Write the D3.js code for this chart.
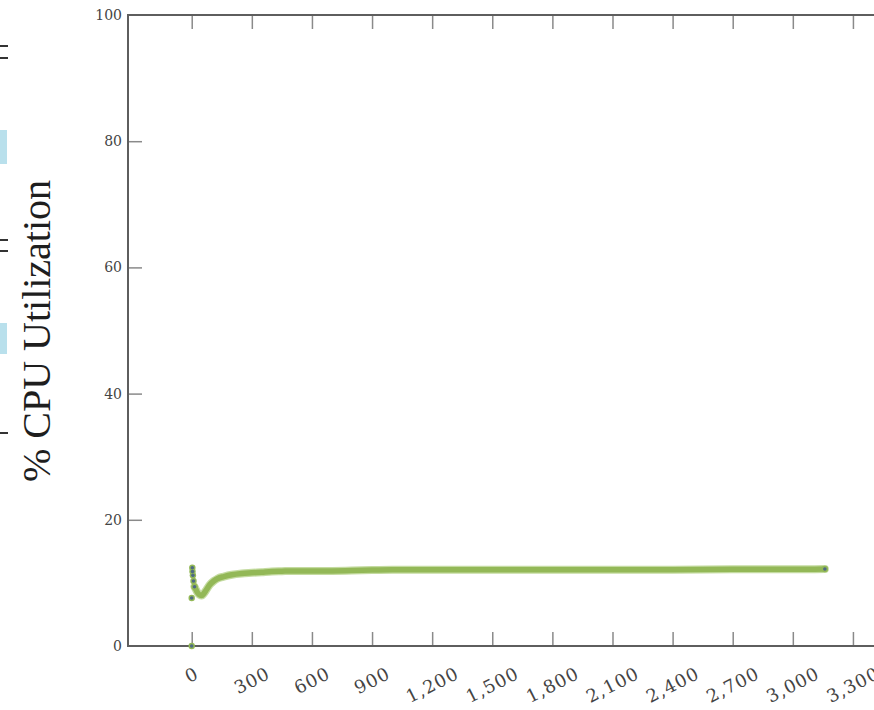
<!DOCTYPE html>
<html>
<head>
<meta charset="utf-8">
<script src="https://cdn.jsdelivr.net/npm/d3@7"></script>
<style>
  html, body { margin: 0; padding: 0; background: #fff; }
  svg { display: block; }
</style>
</head>
<body>
<svg id="chart" width="874" height="710"></svg>
<script>
// Elapsed time (s) and CPU utilisation (%) — start-up samples
const startTimes = [0, 0, 3, 4, 6, 9, 14];
const startCpu   = [0, 7.6, 12.4, 11.8, 11.2, 10.3, 9.4];

// Elapsed time (s) and CPU utilisation (%) — steady run
const runTimes = [14, 20, 30, 40, 50, 60, 75, 90, 110, 130, 160, 200, 250, 300, 350, 400, 450, 500, 600, 700, 800, 900, 1000, 1200, 1500, 1800, 2100, 2400, 2700, 3000, 3160];
const runCpu   = [9.4, 9.0, 8.4, 8.1, 8.0, 8.3, 9.0, 9.7, 10.3, 10.7, 11.0, 11.3, 11.5, 11.6, 11.7, 11.8, 11.85, 11.9, 11.9, 11.9, 11.95, 12.05, 12.1, 12.1, 12.1, 12.1, 12.1, 12.1, 12.15, 12.15, 12.2];

// Axis ticks
const xTicks = [0, 300, 600, 900, 1200, 1500, 1800, 2100, 2400, 2700, 3000, 3300];
const yTicks = [0, 20, 40, 60, 80, 100];
const xDomain = [-318, 3490];
const yDomain = [0, 100];

(function draw() {
const svg = d3.select("#chart");
const plotLeft = 128, plotRight = 891, plotTop = 15, plotBottom = 646;

const x = d3.scaleLinear().domain(xDomain).range([plotLeft, plotRight]);
const y = d3.scaleLinear().domain(yDomain).range([plotBottom, plotTop]);

const frameColor = "#5e5e5e";
const tickColor = "#8a8a8a";
const labelColor = "#444";
const lineColor = "#93b857";
const dotColor = "#4e6a84";

// Edge of the neighbouring panel (dark rules and shaded cells)
const edgeRules = [46, 58, 240, 251, 433];
const edgeCells = [[130, 164], [323, 354]];
svg.selectAll("rect.edgecell").data(edgeCells).enter().append("rect")
  .attr("class", "edgecell")
  .attr("x", 0).attr("width", 7)
  .attr("y", d => d[0]).attr("height", d => d[1] - d[0])
  .attr("fill", "#b9e0ec");
svg.selectAll("line.edgerule").data(edgeRules).enter().append("line")
  .attr("class", "edgerule")
  .attr("x1", 0).attr("x2", 8)
  .attr("y1", d => d).attr("y2", d => d)
  .attr("stroke", "#333").attr("stroke-width", 2);

// Axes: bottom/top with inward ticks, left with inward ticks
const tickLen = 14;
const gx = svg.append("g").attr("transform", `translate(0,${plotBottom})`)
  .call(d3.axisBottom(x).tickValues(xTicks).tickSizeInner(-tickLen).tickSizeOuter(0).tickFormat(""));
const gxTop = svg.append("g").attr("transform", `translate(0,${plotTop})`)
  .call(d3.axisTop(x).tickValues(xTicks).tickSizeInner(-tickLen).tickSizeOuter(0).tickFormat(""));
const gy = svg.append("g").attr("transform", `translate(${plotLeft},0)`)
  .call(d3.axisLeft(y).tickValues(yTicks).tickSizeInner(-tickLen).tickSizeOuter(0).tickFormat(""));
[gx, gxTop, gy].forEach(g => {
  g.select(".domain").remove();
  g.selectAll(".tick line").attr("stroke", tickColor).attr("stroke-width", 1.5);
});
// ticks on the frame corners are not drawn
gy.selectAll(".tick").filter(d => d === 0 || d === 100).remove();

// Frame
svg.append("rect")
  .attr("x", plotLeft).attr("y", plotTop)
  .attr("width", plotRight - plotLeft).attr("height", plotBottom - plotTop)
  .attr("fill", "none").attr("stroke", frameColor).attr("stroke-width", 2);

// Y tick labels
svg.append("g").selectAll("text").data(yTicks).enter().append("text")
  .attr("x", 122).attr("y", d => y(d))
  .attr("dy", "0.36em")
  .attr("text-anchor", "end")
  .attr("font-family", "DejaVu Serif, serif")
  .attr("font-size", 14)
  .attr("fill", labelColor)
  .text(d => d3.format(",")(d));

// X tick labels, rotated; top of the rotated box sits just under the axis
const angle = 27, rad = angle * Math.PI / 180;
const xl = svg.append("g").selectAll("text").data(xTicks).enter().append("text")
  .attr("text-anchor", "middle")
  .attr("dominant-baseline", "central")
  .attr("font-family", "DejaVu Serif, serif")
  .attr("font-size", 18)
  .attr("letter-spacing", 1)
  .attr("fill", labelColor)
  .text(d => d3.format(",")(d));
xl.each(function(d) {
  const w = this.getComputedTextLength();
  const h = 13;
  const cy = 666 + (w / 2) * Math.sin(rad) + (h / 2) * Math.cos(rad);
  const cx = x(d);
  d3.select(this).attr("x", cx).attr("y", cy)
    .attr("transform", `rotate(${-angle},${cx},${cy})`);
});

// Y axis title
svg.append("text")
  .attr("transform", `translate(50,331) rotate(-90)`)
  .attr("text-anchor", "middle")
  .attr("font-family", "Liberation Serif, serif")
  .attr("font-size", 40)
  .attr("fill", "#1e1e1e")
  .text("% CPU Utilization");

// Utilisation line
const runData = runTimes.map((t, i) => ({t, v: runCpu[i]}));
const line = d3.line().x(d => x(d.t)).y(d => y(d.v)).curve(d3.curveMonotoneX);
svg.append("path").datum(runData)
  .attr("d", line)
  .attr("fill", "none")
  .attr("stroke", "#c4dba0").attr("stroke-width", 8).attr("stroke-linecap", "round")
  .attr("stroke-linejoin", "round");
svg.append("path").datum(runData)
  .attr("d", line)
  .attr("fill", "none")
  .attr("stroke", lineColor).attr("stroke-width", 5.5).attr("stroke-linecap", "round")
  .attr("stroke-linejoin", "round");

// Start-up samples and last sample as marks
const marks = startTimes.map((t, i) => ({t, v: startCpu[i]}))
  .concat([{t: runTimes[runTimes.length - 1], v: runCpu[runCpu.length - 1]}]);
const mg = svg.append("g");
mg.selectAll("circle.halo").data(marks).enter().append("circle")
  .attr("class", "halo")
  .attr("cx", d => x(d.t)).attr("cy", d => y(d.v)).attr("r", 3.2)
  .attr("fill", lineColor);
mg.selectAll("circle.core").data(marks).enter().append("circle")
  .attr("class", "core")
  .attr("cx", d => x(d.t)).attr("cy", d => y(d.v)).attr("r", 1.8)
  .attr("fill", dotColor);
})();
</script>
</body>
</html>
